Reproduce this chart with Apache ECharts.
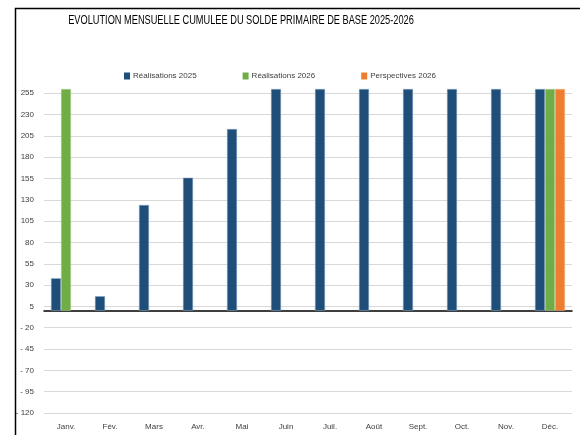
<!DOCTYPE html>
<html>
<head>
<meta charset="utf-8">
<script src="https://cdn.jsdelivr.net/npm/echarts@6/dist/echarts.min.js"></script>
<style>
  html, body { margin: 0; padding: 0; background: #fff; }
  #chart { width: 580px; height: 435px; }
</style>
</head>
<body>
<div id="chart"></div>
<script>
// mois
var months = ['Janv.', 'Fév.', 'Mars', 'Avr.', 'Mai', 'Juin', 'Juil.', 'Août', 'Sept.', 'Oct.', 'Nov.', 'Déc.'];
// séries
var real2025 = [38, 17, 124, 156, 213, 260, 260, 260, 260, 260, 260, 260];
var real2026 = [260, null, null, null, null, null, null, null, null, null, null, 260];
var persp2026 = [null, null, null, null, null, null, null, null, null, null, null, 260];

var font = '"Liberation Sans", Arial, sans-serif';

var myChart = echarts.init(document.getElementById('chart'));
var option = {
    backgroundColor: '#fff',
    animation: false,
    legend: {
        left: 119,
        top: 67,
        itemWidth: 6,
        itemHeight: 7,
        itemGap: 46,
        icon: 'rect',
        itemStyle: { borderWidth: 0 },
        textStyle: { fontFamily: font, fontSize: 8, color: '#404040', padding: [0, 0, 0, -2] },
        data: ['Réalisations 2025', 'Réalisations 2026', 'Perspectives 2026']
    },
    grid: { left: 44, right: 8, top: 89, bottom: 22 },
    xAxis: {
        type: 'category',
        data: months,
        axisLine: { onZero: true, lineStyle: { color: '#000', width: 1.5 } },
        axisTick: { show: false },
        axisLabel: { fontFamily: font, fontSize: 8, color: '#404040', margin: 10 }
    },
    yAxis: {
        type: 'value',
        min: -120,
        max: 260,
        interval: 25,
        axisLine: { show: false },
        axisTick: { show: false },
        splitLine: { showMaxLine: false, lineStyle: { color: '#d9d9d9', width: 1 } },
        axisLabel: {
            showMaxLabel: false,
            fontFamily: font,
            fontSize: 8,
            color: '#404040',
            margin: 10,
            formatter: function (v) { return v < 0 ? '- ' + Math.abs(v) : String(v); }
        }
    },
    series: [
        { name: 'Réalisations 2025', type: 'bar', data: real2025, barWidth: 10, barGap: '0%',
          itemStyle: { color: '#1F4E79', borderColor: '#8fb0d0', borderWidth: 0.5 } },
        { name: 'Réalisations 2026', type: 'bar', data: real2026, barWidth: 10, barGap: '0%',
          itemStyle: { color: '#70AD47', borderColor: '#b5d6a0', borderWidth: 0.5 } },
        { name: 'Perspectives 2026', type: 'bar', data: persp2026, barWidth: 10, barGap: '0%',
          itemStyle: { color: '#ED7D31', borderColor: '#f5b88f', borderWidth: 0.5 } }
    ],
    graphic: [{
        type: 'rect',
        shape: { x: 15.5, y: 8.5, width: 700, height: 600 },
        style: { fill: 'none', stroke: '#000', lineWidth: 1.5 },
        silent: true
    }, {
        // titre, resserré pour imiter la police étroite
        type: 'text',
        x: 241,
        y: 14,
        scaleX: 0.71,
        style: {
            text: 'EVOLUTION MENSUELLE CUMULEE DU SOLDE PRIMAIRE DE BASE 2025-2026',
            font: '13px ' + font,
            fill: '#000',
            align: 'center',
            verticalAlign: 'top'
        },
        silent: true
    }]
};
myChart.setOption(option);
</script>
</body>
</html>
